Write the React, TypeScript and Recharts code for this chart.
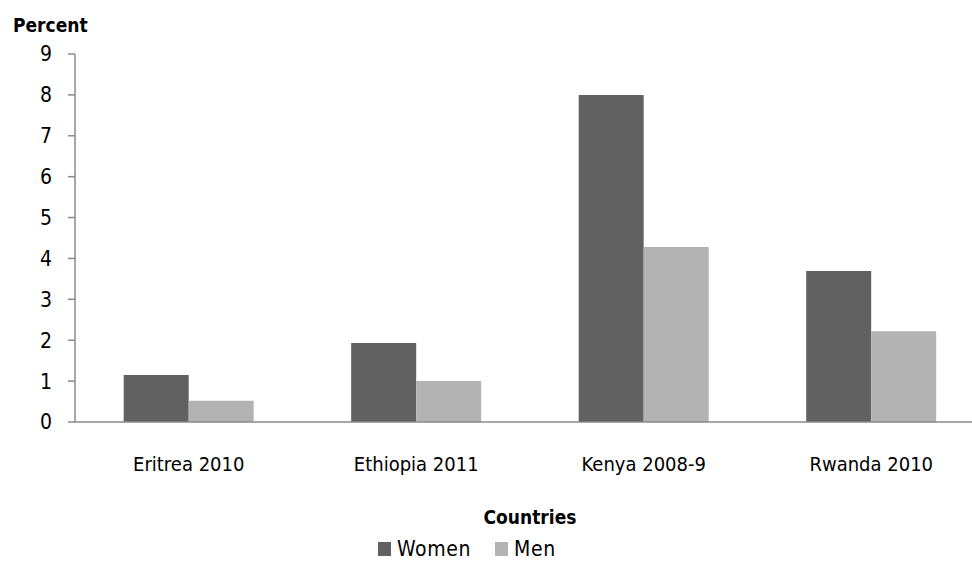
import React from "react";
import { BarChart, Bar, XAxis, YAxis, Legend } from "recharts";

const countries = ["Eritrea 2010", "Ethiopia 2011", "Kenya 2008-9", "Rwanda 2010"];
const women = [1.15, 1.93, 8.0, 3.69];
const men = [0.52, 1.0, 4.28, 2.22];
const yTicks = [0, 1, 2, 3, 4, 5, 6, 7, 8, 9];

const data = countries.map((c, i) => ({ country: c, Women: women[i], Men: men[i] }));

const FONT = "'Liberation Sans Narrow', 'DejaVu Sans Condensed', 'Liberation Sans', sans-serif";
const WOMEN_COLOR = "#616161";
const MEN_COLOR = "#b3b3b3";
const AXIS_COLOR = "#8a8a8a";

const LegendContent = () => (
  <div
    style={{
      height: 30,
      display: "flex",
      alignItems: "center",
      paddingLeft: 378,
      fontFamily: FONT,
      fontSize: 21,
      color: "#000",
      lineHeight: "30px",
    }}
  >
    {[
      { name: "Women", color: WOMEN_COLOR },
      { name: "Men", color: MEN_COLOR },
    ].map((it) => (
      <div key={it.name} style={{ display: "flex", alignItems: "center", marginRight: 24 }}>
        <span style={{ display: "inline-block", width: 13, height: 14, background: it.color, marginRight: 6 }} />
        <span style={{ letterSpacing: 0.6 }}>{it.name}</span>
      </div>
    ))}
  </div>
);

const PercentLabel = (props: any) => {
  const vb = props.viewBox || { x: 0, y: 0 };
  return (
    <text x={vb.x + 13} y={vb.y - 22} fontFamily={FONT} fontSize={19} fontWeight="bold" fill="#000">
      Percent
    </text>
  );
};

const CountriesLabel = (props: any) => {
  const vb = props.viewBox || { x: 0, y: 0, width: 0 };
  return (
    <text
      x={vb.x + vb.width / 2}
      y={vb.y + 102}
      textAnchor="middle"
      fontFamily={FONT}
      fontSize={19}
      fontWeight="bold"
      fill="#000"
    >
      Countries
    </text>
  );
};

export default function App() {
  return (
    <div
      style={{
        position: "fixed",
        left: 0,
        top: 0,
        width: 972,
        height: 564,
        overflow: "hidden",
        background: "#fff",
      }}
    >
      <BarChart
        width={985}
        height={564}
        data={data}
        margin={{ top: 54, right: 0, left: 0, bottom: 0 }}
        barGap={0}
        barCategoryGap="21.4%"
      >
        <XAxis
          dataKey="country"
          height={112}
          tickLine={false}
          tickSize={0}
          tickMargin={35}
          axisLine={{ stroke: AXIS_COLOR, strokeWidth: 1.5 }}
          tick={{ fontFamily: FONT, fontSize: 20, fill: "#000" }}
          interval={0}
          label={<CountriesLabel />}
        />
        <YAxis
          width={75}
          domain={[0, 9]}
          ticks={yTicks}
          interval={0}
          tickSize={7}
          tickMargin={16}
          tickLine={{ stroke: AXIS_COLOR, strokeWidth: 1.5 }}
          axisLine={{ stroke: AXIS_COLOR, strokeWidth: 1.5 }}
          tick={{ fontFamily: FONT, fontSize: 21, fill: "#000" }}
          label={<PercentLabel />}
        />
        <Legend verticalAlign="bottom" align="left" content={<LegendContent />} />
        <Bar dataKey="Women" fill={WOMEN_COLOR} isAnimationActive={false} />
        <Bar dataKey="Men" fill={MEN_COLOR} isAnimationActive={false} />
      </BarChart>
    </div>
  );
}
